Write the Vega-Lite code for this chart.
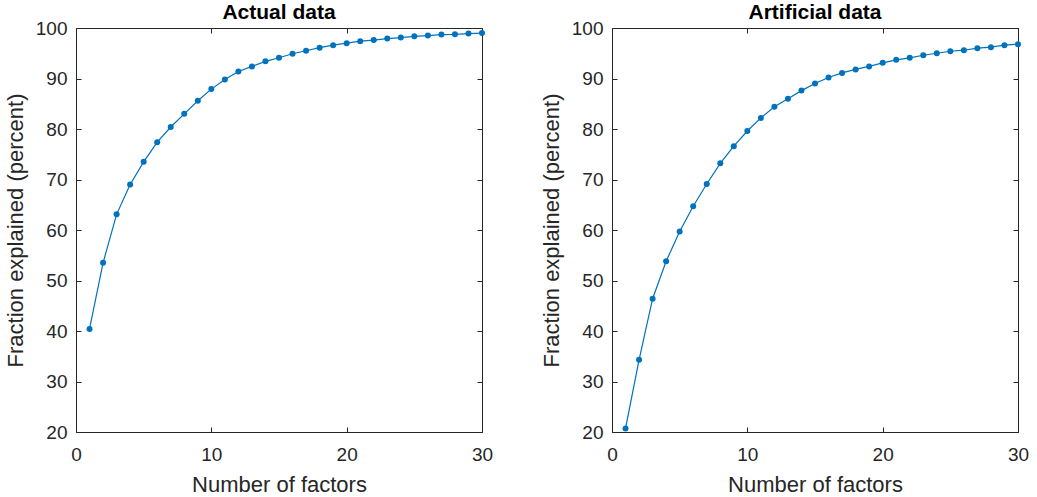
{
  "$schema": "https://vega.github.io/schema/vega-lite/v6.json",
  "padding": {"left": 4, "top": 2, "right": 4, "bottom": 0},
  "background": "white",
  "spacing": 47,
  "config": {
    "font": "Liberation Sans",
    "view": {"stroke": null},
    "axis": {
      "domainColor": "#262626",
      "tickColor": "#262626",
      "labelColor": "#262626",
      "titleColor": "#262626",
      "labelFont": "Liberation Sans",
      "titleFont": "Liberation Sans",
      "labelFontSize": 19,
      "titleFontSize": 22,
      "titleFontWeight": "normal",
      "grid": false,
      "tickSize": -5,
      "domainWidth": 1,
      "tickWidth": 1
    },
    "title": {"font": "Liberation Sans", "fontSize": 21, "fontWeight": "bold", "color": "#000000", "offset": -4}
  },
  "hconcat": [
    {
      "title": "Actual data",
      "width": 406,
      "height": 404,
      "data": {"values": [
        {"n": 1, "pct": 40.4}, {"n": 2, "pct": 53.5}, {"n": 3, "pct": 63.1}, {"n": 4, "pct": 69.0}, {"n": 5, "pct": 73.5},
        {"n": 6, "pct": 77.4}, {"n": 7, "pct": 80.4}, {"n": 8, "pct": 83.0}, {"n": 9, "pct": 85.6}, {"n": 10, "pct": 87.9},
        {"n": 11, "pct": 89.8}, {"n": 12, "pct": 91.4}, {"n": 13, "pct": 92.4}, {"n": 14, "pct": 93.4}, {"n": 15, "pct": 94.1},
        {"n": 16, "pct": 94.9}, {"n": 17, "pct": 95.5}, {"n": 18, "pct": 96.1}, {"n": 19, "pct": 96.6}, {"n": 20, "pct": 97.0},
        {"n": 21, "pct": 97.4}, {"n": 22, "pct": 97.6}, {"n": 23, "pct": 97.9}, {"n": 24, "pct": 98.1}, {"n": 25, "pct": 98.35},
        {"n": 26, "pct": 98.5}, {"n": 27, "pct": 98.7}, {"n": 28, "pct": 98.75}, {"n": 29, "pct": 98.9}, {"n": 30, "pct": 99.0}
      ]},
      "layer": [
        {
          "mark": {"type": "line", "color": "#0072BD", "strokeWidth": 1.2},
          "encoding": {
            "x": {"field": "n", "type": "quantitative", "scale": {"domain": [0, 30], "nice": false, "zero": false},
                  "axis": {"orient": "bottom", "values": [0, 10, 20, 30], "labelPadding": 18, "title": "Number of factors", "titlePadding": 10, "labelFlush": false}},
            "y": {"field": "pct", "type": "quantitative", "scale": {"domain": [20, 100], "nice": false, "zero": false},
                  "axis": {"orient": "left", "values": [20, 30, 40, 50, 60, 70, 80, 90, 100], "labelPadding": 14, "title": "Fraction explained (percent)", "titlePadding": 8, "labelFlush": false}}
          }
        },
        {
          "mark": {"type": "point", "filled": true, "size": 36, "opacity": 1, "color": "#0072BD"},
          "encoding": {
            "x": {"field": "n", "type": "quantitative", "scale": {"domain": [0, 30], "nice": false, "zero": false},
                  "axis": {"orient": "top", "values": [0, 10, 20, 30], "labels": false, "title": null}},
            "y": {"field": "pct", "type": "quantitative", "scale": {"domain": [20, 100], "nice": false, "zero": false},
                  "axis": {"orient": "right", "values": [20, 30, 40, 50, 60, 70, 80, 90, 100], "labels": false, "title": null}}
          }
        }
      ],
      "resolve": {"axis": {"x": "independent", "y": "independent"}}
    },
    {
      "title": "Artificial data",
      "width": 406,
      "height": 404,
      "data": {"values": [
        {"n": 1, "pct": 20.7}, {"n": 2, "pct": 34.3}, {"n": 3, "pct": 46.4}, {"n": 4, "pct": 53.8}, {"n": 5, "pct": 59.7},
        {"n": 6, "pct": 64.7}, {"n": 7, "pct": 69.1}, {"n": 8, "pct": 73.2}, {"n": 9, "pct": 76.6}, {"n": 10, "pct": 79.6},
        {"n": 11, "pct": 82.2}, {"n": 12, "pct": 84.4}, {"n": 13, "pct": 86.0}, {"n": 14, "pct": 87.6}, {"n": 15, "pct": 89.0},
        {"n": 16, "pct": 90.2}, {"n": 17, "pct": 91.1}, {"n": 18, "pct": 91.8}, {"n": 19, "pct": 92.4}, {"n": 20, "pct": 93.1},
        {"n": 21, "pct": 93.7}, {"n": 22, "pct": 94.1}, {"n": 23, "pct": 94.6}, {"n": 24, "pct": 95.0}, {"n": 25, "pct": 95.4},
        {"n": 26, "pct": 95.6}, {"n": 27, "pct": 96.0}, {"n": 28, "pct": 96.2}, {"n": 29, "pct": 96.6}, {"n": 30, "pct": 96.8}
      ]},
      "layer": [
        {
          "mark": {"type": "line", "color": "#0072BD", "strokeWidth": 1.2},
          "encoding": {
            "x": {"field": "n", "type": "quantitative", "scale": {"domain": [0, 30], "nice": false, "zero": false},
                  "axis": {"orient": "bottom", "values": [0, 10, 20, 30], "labelPadding": 18, "title": "Number of factors", "titlePadding": 10, "labelFlush": false}},
            "y": {"field": "pct", "type": "quantitative", "scale": {"domain": [20, 100], "nice": false, "zero": false},
                  "axis": {"orient": "left", "values": [20, 30, 40, 50, 60, 70, 80, 90, 100], "labelPadding": 14, "title": "Fraction explained (percent)", "titlePadding": 8, "labelFlush": false}}
          }
        },
        {
          "mark": {"type": "point", "filled": true, "size": 36, "opacity": 1, "color": "#0072BD"},
          "encoding": {
            "x": {"field": "n", "type": "quantitative", "scale": {"domain": [0, 30], "nice": false, "zero": false},
                  "axis": {"orient": "top", "values": [0, 10, 20, 30], "labels": false, "title": null}},
            "y": {"field": "pct", "type": "quantitative", "scale": {"domain": [20, 100], "nice": false, "zero": false},
                  "axis": {"orient": "right", "values": [20, 30, 40, 50, 60, 70, 80, 90, 100], "labels": false, "title": null}}
          }
        }
      ],
      "resolve": {"axis": {"x": "independent", "y": "independent"}}
    }
  ]
}
